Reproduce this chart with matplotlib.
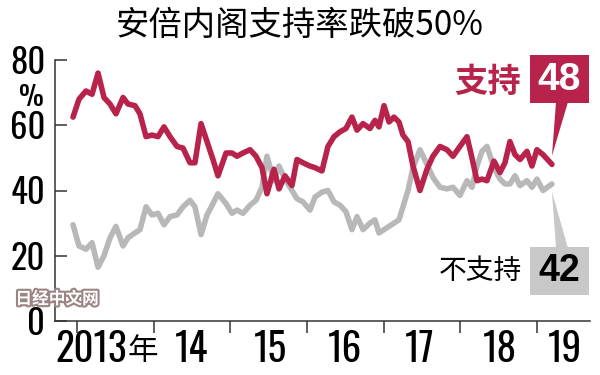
import matplotlib.pyplot as plt
from matplotlib import font_manager
from matplotlib.patches import Rectangle, Polygon
import matplotlib.patheffects as pe

# poll dates (fractional years) and results in %
poll_year = [2012.948, 2013.026, 2013.117, 2013.196, 2013.274, 2013.352, 2013.430, 2013.508,
             2013.600, 2013.665, 2013.756, 2013.821, 2013.900, 2013.978, 2014.056, 2014.134,
             2014.213, 2014.304, 2014.382, 2014.473, 2014.538, 2014.617, 2014.695, 2014.773,
             2014.838, 2014.943, 2015.021, 2015.086, 2015.164, 2015.256, 2015.334, 2015.412,
             2015.477, 2015.568, 2015.634, 2015.712, 2015.803, 2015.868, 2015.947, 2016.038,
             2016.103, 2016.194, 2016.272, 2016.351, 2016.429, 2016.507, 2016.585, 2016.651,
             2016.729, 2016.820, 2016.885, 2016.937, 2017.003, 2017.068, 2017.133, 2017.198,
             2017.250, 2017.316, 2017.381, 2017.472, 2017.563, 2017.641, 2017.733, 2017.824,
             2017.902, 2017.993, 2018.085, 2018.150, 2018.215, 2018.280, 2018.345, 2018.437,
             2018.515, 2018.580, 2018.645, 2018.711, 2018.776, 2018.867, 2018.932, 2018.997,
             2019.076, 2019.193]

support = [62.5, 68, 70.5, 69.5, 76, 68.5, 66.5, 63.5, 68.5, 66.5, 66, 63.5,
           56.5, 57, 56.5, 59.5, 56.5, 53.5, 53, 48.5, 48.5, 60.5, 55, 49.5,
           44.5, 51.5, 51.5, 50.5, 51.5, 52.5, 50.5, 47, 39, 46.5, 40.5, 44.5,
           41.5, 49.5, 48.5, 47.5, 47, 46, 53.5, 56.5, 58, 59, 62.5, 58.5,
           60.5, 59, 61.5, 59.5, 66, 61, 62.5, 61, 57, 55, 47.5, 40,
           46.5, 50.5, 53.5, 52.5, 50.5, 53.5, 56.5, 50, 43, 43.5, 43, 49,
           45.5, 48.5, 55, 51, 49.5, 52, 47.5, 52.5, 51, 48]

nonsupport = [29.5, 23, 22, 24, 16.5, 20, 25.5, 29, 23, 25.5, 27, 28,
              35, 32.5, 33, 29.5, 32, 32.5, 35, 37, 35, 26.5, 32.5, 36,
              39, 36, 33, 34, 33, 35.5, 37, 41, 50.5, 43, 47.5, 43.5,
              40, 37.5, 36.5, 34, 38, 39.5, 40, 36.5, 35.5, 33.5, 28, 32,
              28, 30, 31, 27, 28, 29, 30, 31, 35, 40, 47, 52.5,
              48, 44, 41, 40.5, 41, 38.5, 43, 41, 47.5, 52, 53.5, 47,
              43.5, 42, 42, 44.5, 41.5, 43, 41, 43.5, 40, 42]

year_ticks = [2013, 2014, 2015, 2016, 2017, 2018, 2019]
year_labels = ['2013年', '14', '15', '16', '17', '18', '19']
label_pos = [2013.45, 2014.5, 2015.52, 2016.49, 2017.47, 2018.51, 2019.36]
y_ticks = [0, 20, 40, 60, 80]

RED = '#b8234c'
GRAY = '#b8b8b8'
CJK = ['Noto Sans CJK SC', 'DejaVu Sans']
W, H = 600, 375

# narrow face for the numbers, first one that is installed
names = {f.name for f in font_manager.fontManager.ttflist}
SIZES = {'Oswald': 25, 'Barlow Condensed': 33, 'Roboto Condensed': 28,
         'Liberation Sans': 21}
NUMFONT = next((n for n in ['Oswald', 'Barlow Condensed', 'Roboto Condensed']
                if n in names), 'Liberation Sans')
NARROW = [NUMFONT, 'Noto Sans CJK SC']
NUMSIZE = SIZES[NUMFONT]
NUMWEIGHT = 'light' if NUMFONT == 'Oswald' else 'normal'


def fpx(x, y):
    # figure pixel (from top-left) -> figure fraction
    return x / W, 1 - y / H


fig = plt.figure(figsize=(6, 3.75), dpi=100)
ax = fig.add_axes([55 / W, 1 - 321 / H, 535 / W, 261 / H])

ax.plot(poll_year, nonsupport, color=GRAY, lw=4,
        solid_joinstyle='round', solid_capstyle='round')
ax.plot(poll_year, support, color=RED, lw=4,
        solid_joinstyle='round', solid_capstyle='round')

ax.set_xlim(2012.713, 2019.689)
ax.set_ylim(0, 80)
for s in ['top', 'right']:
    ax.spines[s].set_visible(False)
for s in ['left', 'bottom']:
    ax.spines[s].set_color('#333333')
    ax.spines[s].set_linewidth(1.1)

ax.set_xticks(year_ticks)
ax.set_xticklabels([])
ax.tick_params(axis='x', direction='out', length=8.5, width=1.1, color='#333333')
ax.set_yticks(y_ticks)
ax.set_yticklabels([str(v) for v in y_ticks], family=NARROW, fontsize=NUMSIZE,
                   fontweight=NUMWEIGHT)
ax.tick_params(axis='y', direction='in', length=8.5, width=1.1, color='#333333', pad=7)
ax.get_yticklabels()[-1].set_y(79.5)

for pos, lab in zip(label_pos, year_labels):
    kw = dict(xy=(pos, 0), xycoords=('data', 'axes fraction'),
              textcoords='offset pixels', va='center')
    if lab.endswith('年'):
        # digits in the narrow face, the CJK sign a little smaller
        ax.annotate(lab[:-1], xytext=(15, -28), ha='right', fontweight=NUMWEIGHT,
                    fontsize=NUMSIZE + 3, family=NARROW, **kw)
        ax.annotate(lab[-1], xytext=(16, -30), ha='left',
                    fontsize=22, family=CJK, **kw)
    else:
        ax.annotate(lab, xytext=(0, -28), ha='center', fontweight=NUMWEIGHT,
                    fontsize=NUMSIZE + 3, family=NARROW, **kw)

fig.text(*fpx(31, 97), '%', ha='center', va='center', fontsize=NUMSIZE * 0.8,
         family=NARROW, fontweight=NUMWEIGHT)

fig.text(*fpx(300, 25), '安倍内阁支持率跌破50%', ha='center', va='center',
         fontsize=24, fontweight='medium', family=CJK)

# value call-outs
fig.canvas.draw()
inv = fig.transFigure.inverted()
red_tip = inv.transform(ax.transData.transform((poll_year[-1], support[-1] + 2.6)))
gray_tip = inv.transform(ax.transData.transform((poll_year[-1], nonsupport[-1] - 2.4)))

fig.patches.append(Rectangle(fpx(530, 103), 59 / W, 48 / H, transform=fig.transFigure,
                             facecolor=RED, edgecolor='none'))
fig.patches.append(Polygon([fpx(556, 102), fpx(568, 102), tuple(red_tip)], closed=True,
                           transform=fig.transFigure, facecolor=RED, edgecolor='none'))
fig.text(*fpx(559.5, 80), str(int(support[-1])), ha='center', va='center',
         fontsize=28, fontweight='bold', family='Liberation Sans', color='white')
fig.text(*fpx(521, 82), '支持', ha='right', va='center', fontsize=24,
         fontweight='bold', family=CJK, color=RED)

fig.patches.append(Rectangle(fpx(530, 295), 59 / W, 48 / H, transform=fig.transFigure,
                             facecolor='#c8c8c8', edgecolor='none'))
fig.patches.append(Polygon([fpx(556, 248), fpx(568, 248), tuple(gray_tip)], closed=True,
                           transform=fig.transFigure, facecolor='#c8c8c8', edgecolor='none'))
fig.text(*fpx(559.5, 271), str(int(nonsupport[-1])), ha='center', va='center',
         fontsize=27, fontweight='bold', family='Liberation Sans', color='black')
fig.text(*fpx(522, 271), '不支持', ha='right', va='center', fontsize=20,
         family=CJK, color='black')

wm = fig.text(*fpx(57, 299), '日经中文网', ha='center', va='center', fontsize=12,
              fontweight='bold', family=CJK, color='white')
wm.set_path_effects([pe.withStroke(linewidth=3, foreground='#9c8484')])

fig.savefig('out.png', dpi=100)
